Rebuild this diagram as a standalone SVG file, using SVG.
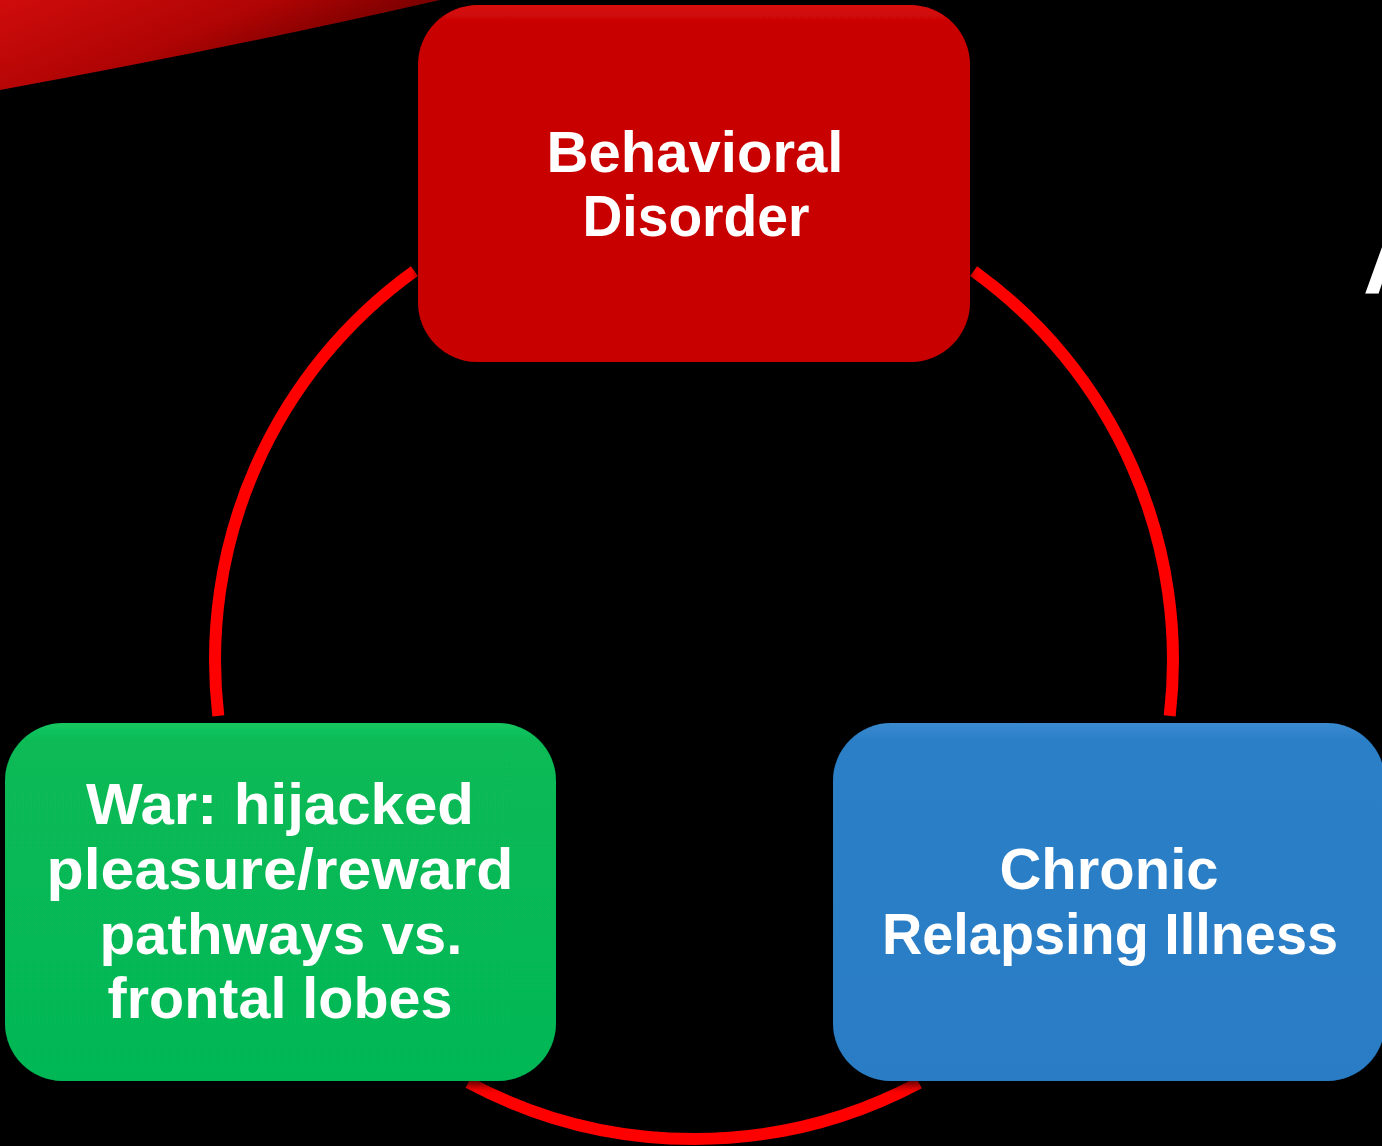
<svg xmlns="http://www.w3.org/2000/svg" width="1382" height="1146" viewBox="0 0 1382 1146">
<style>
.lbl{font-family:"Liberation Sans",Arial,sans-serif;font-weight:bold;font-size:58px;fill:#ffffff;text-anchor:middle}
.arc{fill:none;stroke:#ff0000;stroke-width:12;stroke-linecap:butt}
</style>
<defs>
<linearGradient id="swoosh" x1="0" y1="0" x2="1" y2="0.5">
<stop offset="0" stop-color="#d00c0c"/>
<stop offset="0.5" stop-color="#b00404"/>
<stop offset="0.8" stop-color="#7a0000"/>
<stop offset="1" stop-color="#300000"/>
</linearGradient>
<linearGradient id="gR" x1="0" y1="0" x2="0" y2="1"><stop offset="0" stop-color="#d80a0a"/><stop offset="0.05" stop-color="#c90505"/><stop offset="1" stop-color="#c80505"/></linearGradient>
<linearGradient id="gG" x1="0" y1="0" x2="0" y2="1"><stop offset="0" stop-color="#16c862"/><stop offset="0.05" stop-color="#07ba56"/><stop offset="1" stop-color="#06b755"/></linearGradient>
<linearGradient id="gB" x1="0" y1="0" x2="0" y2="1"><stop offset="0" stop-color="#3a8ad0"/><stop offset="0.05" stop-color="#2a7fc6"/><stop offset="1" stop-color="#297dc4"/></linearGradient>
<filter id="sh" x="-10%" y="-10%" width="120%" height="125%"><feDropShadow dx="0" dy="4" stdDeviation="4" flood-color="#000" flood-opacity="0.7"/></filter>
</defs>
<rect x="0" y="0" width="1382" height="1146" fill="#000"/>
<path d="M0,0 L440,0 Q230,48 0,90 Z" fill="url(#swoosh)"/>
<text x="1363" y="293" font-family="Liberation Sans,Arial,sans-serif" font-weight="bold" font-size="92" fill="#fff">A</text>
<g id="connectors">
<path class="arc" d="M414.4,271.1 A479,479 0 0 0 218.3,715.9"/>
<path class="arc" d="M973.6,271.1 A479,479 0 0 1 1169.7,715.9"/>
<path class="arc" d="M919,1082.9 A479,479 0 0 1 468.4,1082.5"/>
</g>
<g id="node-behavioral">
<rect x="418" y="5" width="552" height="357" rx="60" fill="url(#gR)" filter="url(#sh)"/>
<text class="lbl" x="695" y="172" textLength="297" lengthAdjust="spacingAndGlyphs">Behavioral</text>
<text class="lbl" x="696" y="236" textLength="227" lengthAdjust="spacingAndGlyphs">Disorder</text>
</g>
<g id="node-war">
<rect x="5" y="723" width="551" height="358" rx="58" fill="url(#gG)" filter="url(#sh)"/>
<text class="lbl" x="280" y="824" textLength="388" lengthAdjust="spacingAndGlyphs">War: hijacked</text>
<text class="lbl" x="280" y="889" textLength="467" lengthAdjust="spacingAndGlyphs">pleasure/reward</text>
<text class="lbl" x="281" y="954" textLength="363" lengthAdjust="spacingAndGlyphs">pathways vs.</text>
<text class="lbl" x="280" y="1018" textLength="345" lengthAdjust="spacingAndGlyphs">frontal lobes</text>
</g>
<g id="node-chronic">
<rect x="833" y="723" width="552" height="358" rx="58" fill="url(#gB)" filter="url(#sh)"/>
<text class="lbl" x="1109" y="889" textLength="219" lengthAdjust="spacingAndGlyphs">Chronic</text>
<text class="lbl" x="1110" y="954" textLength="456" lengthAdjust="spacingAndGlyphs">Relapsing Illness</text>
</g>
</svg>
